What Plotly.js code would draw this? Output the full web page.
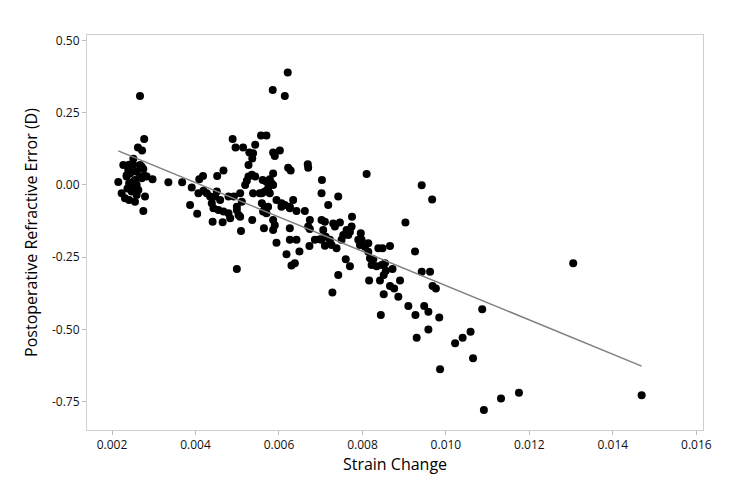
<!DOCTYPE html>
<html>
<head>
<meta charset="utf-8">
<script src="https://cdn.plot.ly/plotly-3.0.1.min.js"></script>
<style>html,body{margin:0;padding:0;background:#fff;}#chart{width:739px;height:493px;}</style>
</head>
<body>
<div id="chart"></div>
<script>
// Strain change (x) and postoperative refractive error in D (y)
const strainChange = [
0.00215,0.00223,0.00227,0.00231,0.00235,0.00235,0.00237,0.00239,0.00241,0.00241,0.00241,0.00243,0.00245,0.00247,0.00247,
0.00251,0.00251,0.00251,0.00255,0.00255,0.00259,0.00259,0.00259,0.00263,0.00262,0.00267,0.00267,0.00267,0.00271,0.00271,
0.00272,0.00275,0.00275,0.00277,0.00279,0.00279,0.00283,0.00297,
0.00335,0.00368,0.00387,0.00391,0.00404,0.00407,0.00409,0.00418,0.00419,0.00427,0.00435,0.00439,0.00441,0.00443,0.00447,
0.00451,0.00452,0.00455,0.00459,0.00465,0.00467,0.00467,0.00479,0.00479,0.00483,0.00489,0.00492,0.00496,0.00499,0.00499,
0.00499,0.00503,0.00507,0.00507,0.00509,0.00511,0.00514,0.00519,0.00523,0.00527,0.00527,0.00529,0.00536,0.00538,0.00535,
0.00543,0.00536,0.00538,0.00543,0.00554,0.00557,0.00570,0.00559,0.00566,0.00559,0.00566,0.00570,0.00564,0.00561,0.00570,
0.00578,0.00582,0.00586,0.00574,0.00578,0.00566,0.00574,0.00562,0.00586,0.00590,0.00586,0.00594,0.00586,0.00585,0.00586,
0.00590,0.00602,0.00594,0.00606,0.00606,0.00614,0.00614,0.00621,0.00622,0.00628,0.00626,0.00626,0.00634,0.00626,0.00626,
0.00642,0.00618,0.00630,0.00638,0.00649,0.00642,0.00662,0.00669,0.00670,0.00674,0.00670,0.00674,0.00673,0.00686,0.00698,
0.00702,0.00702,0.00710,0.00706,0.00712,0.00702,0.00703,0.00718,0.00742,0.00775,0.00810,0.00730,0.00734,0.00746,0.00762,
0.00766,0.00754,0.00796,0.00722,0.00726,0.00710,0.00738,0.00750,0.00770,0.00774,0.00760,0.00770,0.00742,0.00728,0.00798,
0.00794,0.00806,0.00814,0.00814,0.00790,0.00838,0.00848,0.00866,0.00818,0.00826,0.00822,0.00846,0.00854,0.00872,0.00834,
0.00816,0.00842,0.00851,0.00856,0.00890,0.00866,0.00876,0.00851,0.00886,0.00844,0.00903,0.00926,0.00942,0.00967,0.00942,
0.00962,0.00968,0.00976,0.00910,0.00927,0.00948,0.00958,0.00984,0.00930,0.00958,0.00986,0.01087,0.01022,0.01040,0.01059,
0.01065,0.01091,0.01132,0.01175,0.01305,0.01469
];
const refractiveError = [
0.010,-0.029,0.069,-0.046,0.029,0.034,-0.012,0.052,0.070,0.006,-0.052,0.040,0.045,-0.023,-0.006,
0.091,0.069,0.011,0.017,-0.058,0.046,0.000,-0.035,-0.017,0.130,0.308,0.069,0.029,0.063,0.023,
0.119,0.055,-0.090,0.159,0.031,-0.040,0.029,0.020,
0.009,0.009,-0.069,-0.009,-0.100,-0.029,0.020,0.031,-0.020,-0.029,-0.040,-0.063,-0.127,-0.081,-0.040,
-0.023,0.031,-0.087,-0.052,-0.129,0.050,-0.092,-0.040,-0.098,-0.115,0.159,-0.040,0.130,-0.087,-0.291,
-0.075,-0.104,-0.029,-0.110,-0.159,-0.058,0.130,0.000,0.015,0.029,0.069,0.112,0.092,0.110,0.035,
0.029,-0.121,-0.029,0.139,-0.029,0.171,0.171,-0.029,-0.023,-0.063,-0.087,-0.098,-0.150,0.017,0.011,
0.020,0.006,0.000,-0.011,-0.029,-0.081,-0.075,-0.092,-0.121,-0.139,-0.156,-0.200,0.040,0.329,0.112,
0.100,0.119,-0.052,-0.063,-0.075,-0.069,0.308,0.389,0.060,0.050,-0.081,-0.075,-0.052,-0.150,-0.190,
-0.190,-0.240,-0.279,-0.271,-0.230,-0.090,-0.090,0.072,0.060,-0.121,-0.144,-0.152,-0.211,-0.190,-0.188,
-0.121,-0.190,-0.127,-0.156,-0.179,-0.029,0.017,-0.069,-0.040,-0.110,0.038,-0.133,-0.144,-0.130,-0.156,
-0.173,-0.173,-0.167,-0.190,-0.208,-0.210,-0.219,-0.190,-0.162,-0.144,-0.257,-0.281,-0.312,-0.372,-0.190,
-0.208,-0.214,-0.202,-0.231,-0.190,-0.219,-0.219,-0.211,-0.254,-0.257,-0.277,-0.277,-0.271,-0.291,-0.281,
-0.331,-0.331,-0.312,-0.297,-0.331,-0.350,-0.358,-0.378,-0.387,-0.450,-0.130,-0.230,-0.001,-0.050,-0.300,
-0.300,-0.350,-0.358,-0.419,-0.450,-0.419,-0.439,-0.459,-0.529,-0.500,-0.638,-0.430,-0.548,-0.529,-0.508,
-0.600,-0.779,-0.739,-0.719,-0.271,-0.728
];
// Fitted regression line end points
const fitX = [0.00215, 0.01469];
const fitY = [0.118, -0.627];
// Tick labels
const xTickVals = [0.002,0.004,0.006,0.008,0.010,0.012,0.014,0.016];
const xTickText = ["0.002","0.004","0.006","0.008","0.010","0.012","0.014","0.016"];
const yTickVals = [0.50,0.25,0.00,-0.25,-0.50,-0.75];
const yTickText = ["0.50","0.25","0.00","-0.25","-0.50","-0.75"];

const font = "'Open Sans', 'Noto Sans', sans-serif";
const traces = [
  {x: strainChange, y: refractiveError, type: 'scatter', mode: 'markers',
   marker: {color: '#000000', size: 8}, hoverinfo: 'x+y', showlegend: false},
  {x: fitX, y: fitY, type: 'scatter', mode: 'lines',
   line: {color: '#7f7f7f', width: 1.5}, showlegend: false}
];
const axisCommon = {
  showline: true, linecolor: '#cfcfcf', linewidth: 1, mirror: true,
  showgrid: false, zeroline: false,
  ticks: 'outside', ticklen: 4, tickcolor: '#bdbdbd', tickwidth: 1,
  tickfont: {family: font, size: 12, color: '#111'}
};
const layout = {
  width: 739, height: 493,
  margin: {l: 87, r: 36, t: 35, b: 63},
  paper_bgcolor: '#ffffff', plot_bgcolor: '#ffffff',
  xaxis: Object.assign({}, axisCommon, {
    range: [0.0014, 0.01616], tickvals: xTickVals, ticktext: xTickText,
    title: {text: 'Strain Change', font: {family: font, size: 16, color: '#000'}, standoff: 6}
  }),
  yaxis: Object.assign({}, axisCommon, {
    range: [-0.848, 0.519], tickvals: yTickVals, ticktext: yTickText,
    title: {text: 'Postoperative Refractive Error (D)', font: {family: font, size: 16, color: '#000'}, standoff: 10}
  })
};
Plotly.newPlot('chart', traces, layout, {displayModeBar: false, staticPlot: true});
</script>
</body>
</html>
